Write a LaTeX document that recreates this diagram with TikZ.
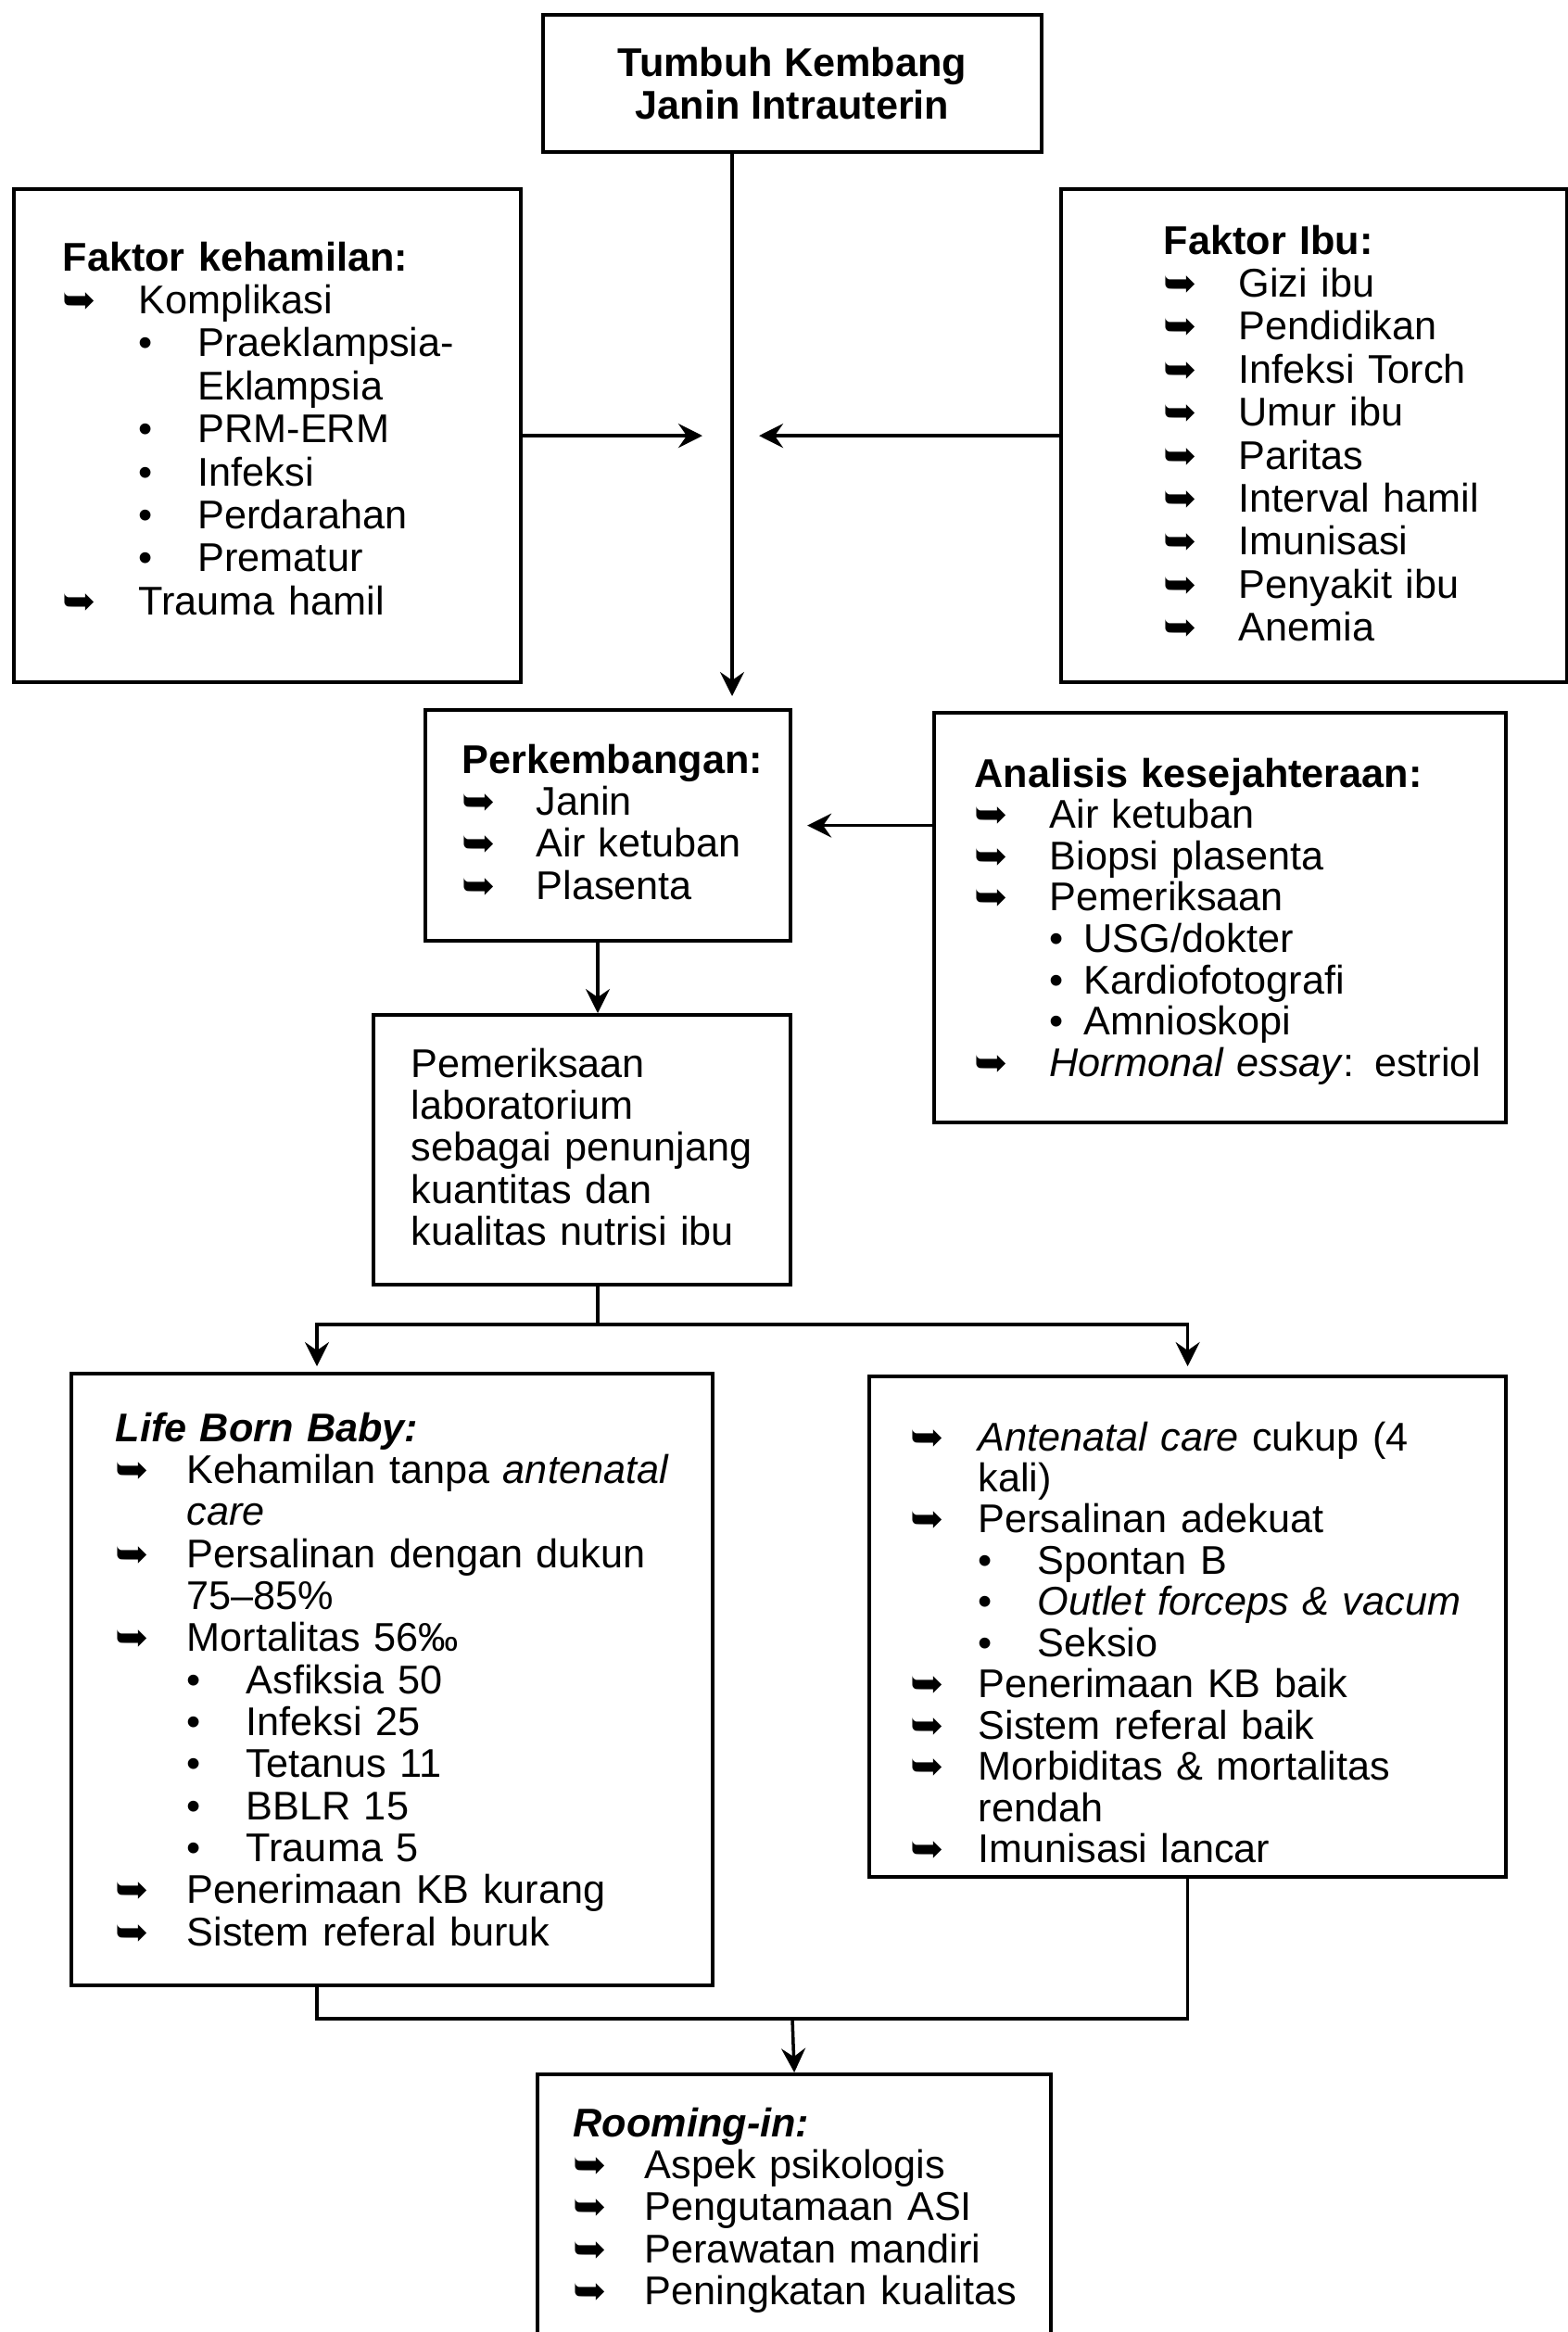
\documentclass[tikz,border=0pt]{standalone}
\usepackage{fontspec}
\setmainfont{Liberation Sans}
\newfontfamily\symf{DejaVu Sans}
\usetikzlibrary{arrows.meta,calc}
\setlength{\parindent}{0pt}
\newcommand{\agap}{0.8cm}
\newcommand{\bgap}{0.64cm}
\newcommand{\arr}{\makebox[\agap][l]{\symf ➥}}
\newcommand{\blt}{\hspace*{\agap}\makebox[\bgap][l]{\textbullet}}
\newcommand{\cnt}{\hspace*{\agap}}
\newcommand{\bcnt}{\hspace*{\agap}\hspace*{\bgap}}

\tikzset{
 box/.style={draw, line width=1.2pt, inner sep=0pt, anchor=north west},
 txt/.style={anchor=north west, inner sep=0pt, align=left, text width=#1, font=\fontsize{12.3}{12.9}\selectfont},
 conn/.style={line width=1pt, -{Stealth[length=2.6mm,width=2.6mm,inset=0.9mm]}},
}

\begin{document}
\begin{tikzpicture}
 \useasboundingbox (0,0) rectangle (16.92,-25.16);
 \clip (0,0) rectangle (16.92,-25.16);
 % boxes
 \node[box, anchor=center, minimum width=5.38cm, minimum height=1.48cm, align=center,
   font=\fontsize{12.3}{13.2}\selectfont\bfseries] (tkj) at (8.55,-0.90) {Tumbuh Kembang\\Janin Intrauterin};
 \node[box, minimum width=5.47cm, minimum height=5.32cm] (keh) at (0.13,-2.02) {};
 \node[box, minimum width=5.46cm, minimum height=5.32cm] (ibu) at (11.43,-2.02) {};
 \node[box, minimum width=3.94cm, minimum height=2.49cm] (perk) at (4.57,-7.64) {};
 \node[box, minimum width=6.17cm, minimum height=4.42cm] (ana) at (10.06,-7.67) {};
 \node[box, minimum width=4.50cm, minimum height=2.91cm] (lab) at (4.01,-10.93) {};
 \node[box, minimum width=6.92cm, minimum height=6.60cm] (lbb) at (0.75,-14.80) {};
 \node[box, minimum width=6.87cm, minimum height=5.40cm] (rbx) at (9.36,-14.83) {};
 \node[box, minimum width=5.54cm, minimum height=3.30cm] (room) at (5.78,-22.36) {};

 % box texts
 \node[txt=4.8cm, font=\fontsize{12.3}{13.2}\selectfont] (keh-t) at ([shift={(0.54,-0.58)}]keh.north west) {\renewcommand{\agap}{0.82cm}%
  \textbf{Faktor kehamilan:}\\
  \arr Komplikasi\\
  \blt Praeklampsia-\\
  \bcnt Eklampsia\\
  \blt PRM-ERM\\
  \blt Infeksi\\
  \blt Perdarahan\\
  \blt Prematur\\
  \arr Trauma hamil};
 \node[txt=4.3cm, font=\fontsize{12.3}{13.2}\selectfont] (ibu-t) at ([shift={(1.12,-0.40)}]ibu.north west) {\renewcommand{\agap}{0.81cm}%
  \textbf{Faktor Ibu:}\\
  \arr Gizi ibu\\
  \arr Pendidikan\\
  \arr Infeksi Torch\\
  \arr Umur ibu\\
  \arr Paritas\\
  \arr Interval hamil\\
  \arr Imunisasi\\
  \arr Penyakit ibu\\
  \arr Anemia};
 \node[txt=3.4cm] (perk-t) at ([shift={(0.41,-0.38)}]perk.north west) {%
  \textbf{Perkembangan:}\\
  \arr Janin\\
  \arr Air ketuban\\
  \arr Plasenta};
 \node[txt=5.6cm, font=\fontsize{12.3}{12.7}\selectfont] (ana-t) at ([shift={(0.45,-0.50)}]ana.north west) {\renewcommand{\agap}{0.81cm}\renewcommand{\bgap}{0.37cm}%
  \textbf{Analisis kesejahteraan:}\\
  \arr Air ketuban\\
  \arr Biopsi plasenta\\
  \arr Pemeriksaan\\
  \blt USG/dokter\\
  \blt Kardiofotografi\\
  \blt Amnioskopi\\
  \arr \textit{Hormonal essay}: estriol};
 \node[txt=4.0cm] (lab-t) at ([shift={(0.42,-0.37)}]lab.north west) {%
  Pemeriksaan\\
  laboratorium\\
  sebagai penunjang\\
  kuantitas dan\\
  kualitas nutrisi ibu};
 \node[txt=6.3cm] (lbb-t) at ([shift={(0.49,-0.43)}]lbb.north west) {\renewcommand{\agap}{0.77cm}%
  \textbf{\textit{Life Born Baby:}}\\
  \arr Kehamilan tanpa \textit{antenatal}\\
  \cnt \textit{care}\\
  \arr Persalinan dengan dukun\\
  \cnt 75–85\%\\
  \arr Mortalitas 56‰\\
  \blt Asfiksia 50\\
  \blt Infeksi 25\\
  \blt Tetanus 11\\
  \blt BBLR 15\\
  \blt Trauma 5\\
  \arr Penerimaan KB kurang\\
  \arr Sistem referal buruk};
 \node[txt=6.3cm, font=\fontsize{12.3}{12.65}\selectfont] (rbx-t) at ([shift={(0.46,-0.50)}]rbx.north west) {\renewcommand{\agap}{0.73cm}%
  \arr \textit{Antenatal care} cukup (4\\
  \cnt kali)\\
  \arr Persalinan adekuat\\
  \blt Spontan B\\
  \blt \textit{Outlet forceps \& vacum}\\
  \blt Seksio\\
  \arr Penerimaan KB baik\\
  \arr Sistem referal baik\\
  \arr Morbiditas \& mortalitas\\
  \cnt rendah\\
  \arr Imunisasi lancar};
 \node[txt=5.0cm] (room-t) at ([shift={(0.40,-0.37)}]room.north west) {\renewcommand{\agap}{0.77cm}%
  \textbf{\textit{Rooming-in:}}\\
  \arr Aspek psikologis\\
  \arr Pengutamaan ASI\\
  \arr Perawatan mandiri\\
  \arr Peningkatan kualitas};

 % connectors
 \coordinate (spine) at (7.90,-4.68);
 \coordinate (col) at (6.45,-10.5);
 \coordinate (split) at (6.45,-14.29);
 \coordinate (lleg) at (3.42,-14.29);
 \coordinate (join) at (8.55,-21.78);
 \draw[conn, shorten >=0.13cm] (tkj.south -| spine) -- (perk.north -| spine);
 \draw[conn, shorten >=0.32cm] (keh.east) -- (keh.east -| spine);
 \draw[conn, shorten >=0.29cm] (ibu.west) -- (ibu.west -| spine);
 \draw[conn, shorten >=0.16cm] (ana.west |- perk.east) -- (perk.east);
 \draw[conn] (perk.south -| col) -- (lab.north -| col);
 \draw[line width=1pt] (lab.south -| split) -- (split);
 \draw[conn, shorten >=0.06cm] (split) -| (lbb.north -| lleg);
 \draw[conn, shorten >=0.09cm] (split) -| (rbx.north);
 \draw[line width=1pt] (lbb.south -| lleg) |- (join) -| (rbx.south);
 \draw[conn] (join) -- (room.north);
\end{tikzpicture}
\end{document}
